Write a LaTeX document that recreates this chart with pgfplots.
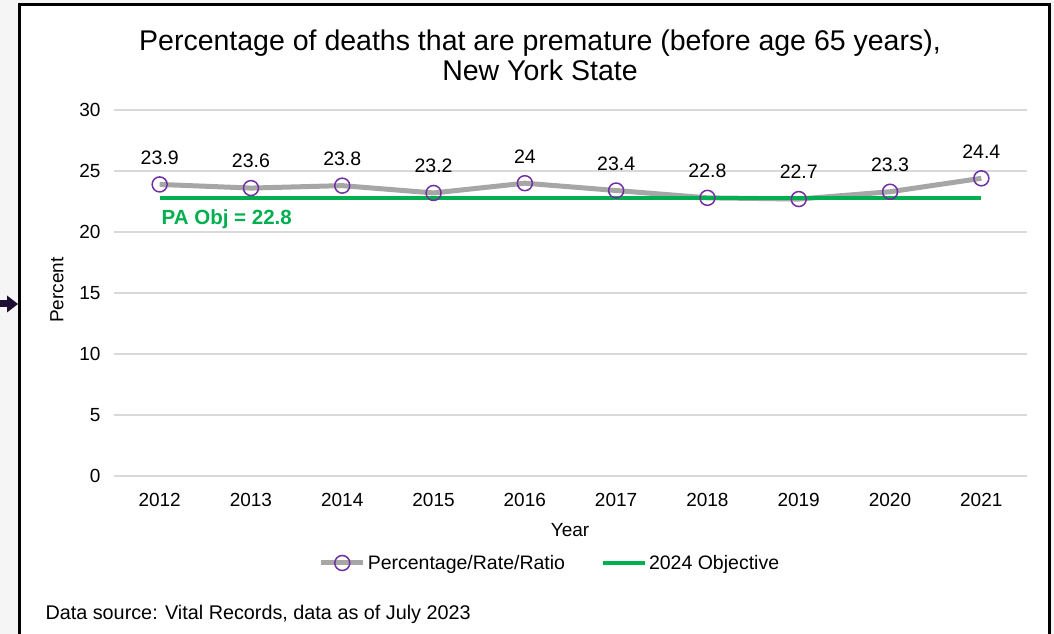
\documentclass[border=0pt]{standalone}
\usepackage{pgfplots}
\pgfplotsset{compat=1.18}
\usepackage{fontspec}
\setmainfont{Liberation Sans}
\definecolor{bggray}{HTML}{F5F5F5}
\definecolor{gridgray}{HTML}{D9D9D9}
\definecolor{linegray}{HTML}{A6A6A6}
\definecolor{mpurple}{HTML}{7030A0}
\definecolor{objgreen}{HTML}{00B050}
\definecolor{arrowcol}{HTML}{1E0F33}
\begin{document}
\begin{tikzpicture}[x=1pt,y=1pt]
\path[use as bounding box, fill=bggray] (0,0) rectangle (1054,634);
\fill[white] (19,0) rectangle (1049,629);
\draw[line width=3pt] (19,0)--(19,629)--(1049,629)--(1049,0);
\fill[arrowcol] (0,326.5) rectangle (8,333.5);
\fill[arrowcol] (7,338.5) -- (18,330) -- (7,321.5) -- cycle;
\node[align=center, font=\fontsize{28.5}{30}\selectfont] at (540,579) {Percentage of deaths that are premature (before age 65 years),\\New York State};
\node[rotate=90, font=\fontsize{19}{22}\selectfont] at (57,344) {Percent};
\node[font=\fontsize{19}{22}\selectfont] at (570,104) {Year};
\node[anchor=west, font=\fontsize{19.8}{21}\selectfont] at (42,20) {Data source: Vital Records, data as of July 2023};
\begin{axis}[
  at={(114pt,158pt)}, anchor=south west, scale only axis,
  width=913pt, height=366pt,
  xmin=2011.5, xmax=2021.5, ymin=0, ymax=30,
  xtick={2012,...,2021}, ytick={0,5,...,30},
  ymajorgrids, grid style={color=gridgray, line width=1.3pt},
  axis line style={draw=none}, major tick length=0pt,
  tick label style={font=\fontsize{19}{22}\selectfont},
  /pgf/number format/assume math mode=true,
  /pgf/number format/1000 sep={},
  yticklabel style={xshift=-10pt},
  xticklabel style={yshift=-14pt},
  clip=false,
  legend columns=2,
  legend style={at={(0.4775,-0.2377)}, anchor=center, draw=none, fill=none,
    font=\fontsize{19.5}{22}\selectfont, inner sep=0pt,
    /tikz/every even column/.append style={column sep=34pt}},
  legend image code/.code={\draw[mark repeat=2,mark phase=2] plot coordinates {(0pt,0pt) (21pt,0pt) (42pt,0pt)};},
]
\addplot[color=linegray, line width=5pt, mark=o, mark size=7.5pt,
  mark options={draw=mpurple, line width=1.5pt, fill=none},
  nodes near coords,
  nodes near coords style={font=\fontsize{19.5}{22}\selectfont, anchor=center, yshift=27pt, text=black, /pgf/number format/assume math mode=true}]
  coordinates {(2012,23.9) (2013,23.6) (2014,23.8) (2015,23.2) (2016,24) (2017,23.4) (2018,22.8) (2019,22.7) (2020,23.3) (2021,24.4)};
\addlegendentry{Percentage/Rate/Ratio}
\addplot[color=objgreen, line width=4pt, no marks] coordinates {(2012,22.8) (2021,22.8)};
\addlegendentry{2024 Objective}
\node[anchor=west, text=objgreen, font=\bfseries\fontsize{20.5}{22}\selectfont, inner sep=0pt] at (axis cs:2012.02,21.07) {PA Obj = 22.8};
\end{axis}
\end{tikzpicture}
\end{document}
